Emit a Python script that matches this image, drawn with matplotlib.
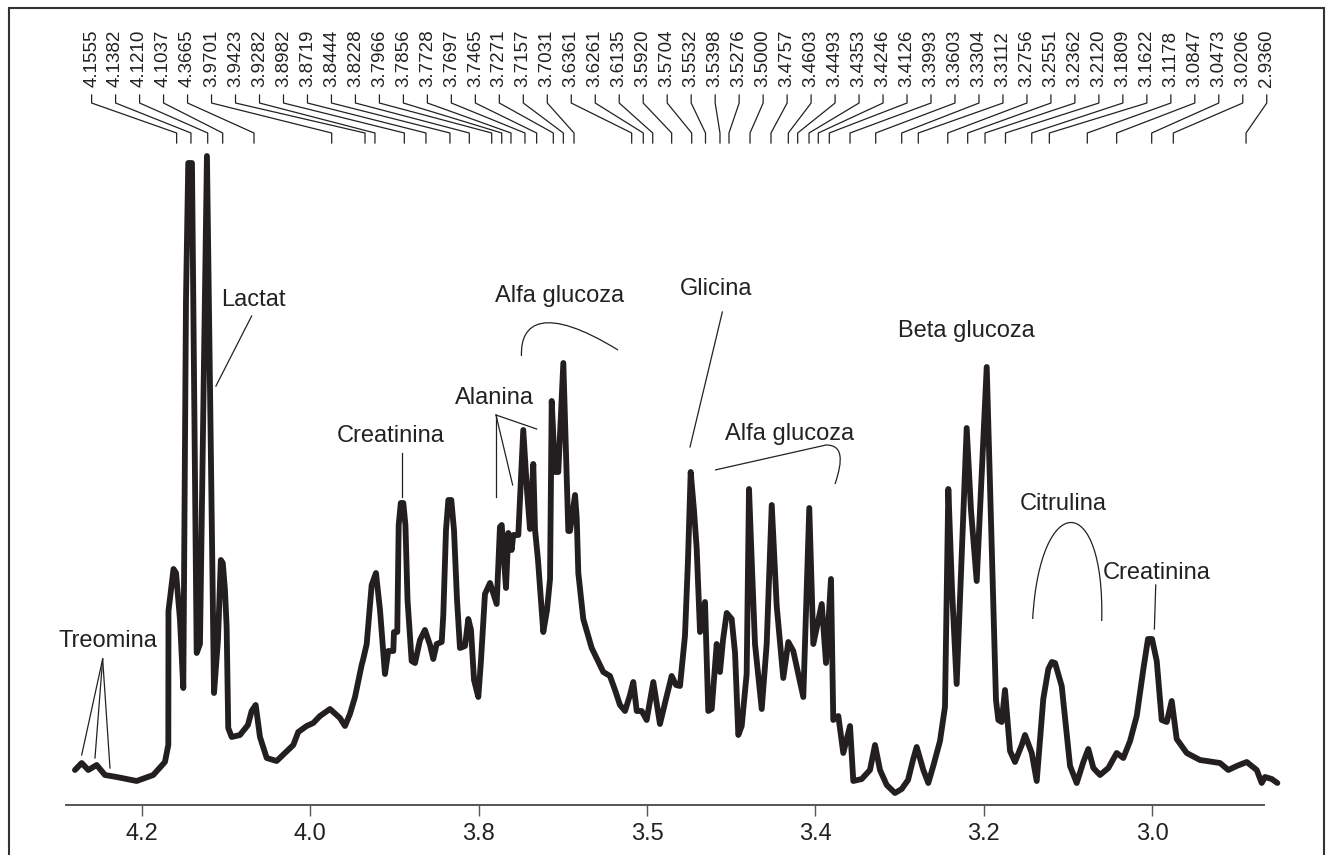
import numpy as np
import matplotlib
matplotlib.use("Agg")
import matplotlib.pyplot as plt
from matplotlib.path import Path
from matplotlib.patches import PathPatch, Rectangle
from matplotlib.transforms import blended_transform_factory

plt.rcParams['font.family'] = ['Liberation Sans', 'DejaVu Sans']

# spectru 1H-RMN: deplasare chimica (ppm) si intensitate (u.a.)
ppm = [4.2796, 4.2716, 4.2638, 4.2538, 4.2440, 4.2301, 4.2063, 4.1866, 4.1727, 4.1687,
       4.1685, 4.1625, 4.1595, 4.1548, 4.1509, 4.1477, 4.1450, 4.1406, 4.1350, 4.1311, 4.1228,
       4.1144, 4.1097, 4.1063, 4.1040, 4.1014, 4.0994, 4.0975, 4.0934, 4.0836, 4.0741, 4.0697,
       4.0649, 4.0598, 4.0518, 4.0400, 4.0202, 4.0143, 4.0043, 3.9965, 3.9885, 3.9766,
       3.9648, 3.9588, 3.9529, 3.9469, 3.9390, 3.9371, 3.9330, 3.9271, 3.9220, 3.9172,
       3.9113, 3.9074, 3.9014, 3.9006, 3.8967, 3.8950, 3.8925, 3.8895, 3.8870, 3.8845, 3.8796,
       3.8756, 3.8697, 3.8638, 3.8578, 3.8539, 3.8499, 3.8439, 3.8420, 3.8388, 3.8360, 3.8325,
       3.8293, 3.8257, 3.8222, 3.8162, 3.8123, 3.8091, 3.8055, 3.8004, 3.7972, 3.7925,
       3.7865, 3.7786, 3.7747, 3.7726, 3.7699, 3.7675, 3.7648, 3.7608, 3.7589, 3.7529,
       3.7470, 3.7426, 3.7390, 3.7351, 3.7331, 3.7295, 3.7232, 3.7188, 3.7152, 3.7132,
       3.7093, 3.7054, 3.6994, 3.6935, 3.6915, 3.6855, 3.6835, 3.6816, 3.6757, 3.6657,
       3.6519, 3.6440, 3.6380, 3.6321, 3.6261, 3.6202, 3.6163, 3.6122, 3.6063, 3.6004,
       3.5925, 3.5846, 3.5786, 3.5707, 3.5655, 3.5608, 3.5569, 3.5549, 3.5513, 3.5481,
       3.5442, 3.5410, 3.5370, 3.5311, 3.5272, 3.5231, 3.5172, 3.5133, 3.5097, 3.5053,
       3.4994, 3.4954, 3.4915, 3.4875, 3.4816, 3.4788, 3.4752, 3.4717, 3.4637, 3.4578,
       3.4518, 3.4459, 3.4381, 3.4321, 3.4262, 3.4202, 3.4143, 3.4072, 3.4024, 3.3924,
       3.3873, 3.3814, 3.3787, 3.3727, 3.3668, 3.3588, 3.3549, 3.3449, 3.3351, 3.3291,
       3.3232, 3.3152, 3.3054, 3.2974, 3.2899, 3.2840, 3.2796, 3.2717, 3.2658, 3.2599,
       3.2519, 3.2460, 3.2420, 3.2376, 3.2321, 3.2202, 3.2151, 3.2083, 3.1964, 3.1901,
       3.1854, 3.1826, 3.1786, 3.1747, 3.1687, 3.1628, 3.1548, 3.1509, 3.1429, 3.1370,
       3.1292, 3.1232, 3.1190, 3.1152, 3.1073, 3.0974, 3.0895, 3.0816, 3.0757, 3.0697, 3.0618,
       3.0519, 3.0420, 3.0341, 3.0261, 3.0182, 3.0103, 3.0048, 3.0000, 2.9944, 2.9885, 2.9825,
       2.9766, 2.9707, 2.9588, 2.9430, 2.9192, 2.9094, 2.8994, 2.8875, 2.8756, 2.8697,
       2.8658, 2.8578, 2.8511]
intensity = [35, 42, 35, 40, 30, 28, 24, 30, 43, 60,
             194, 236, 232, 185, 117, 505, 642, 642, 152, 161, 649,
             112, 165, 245, 242, 215, 178, 77, 68, 70, 80, 94,
             100, 68, 47, 44, 60, 73, 79, 82, 89, 96,
             87, 79, 91, 108, 140, 146, 161, 220, 232, 195,
             131, 154, 154, 173, 173, 280, 302, 302, 280, 205, 144,
             142, 165, 175, 160, 146, 161, 163, 190, 275, 305, 305,
             275, 205, 157, 159, 186, 175, 125, 108, 145, 211,
             222, 201, 278, 280, 245, 217, 272, 255, 270, 270,
             375, 315, 276, 341, 276, 245, 173, 195, 226, 404,
             333, 333, 442, 274, 274, 310, 287, 232, 186, 157,
             133, 129, 115, 100, 94, 110, 123, 94, 94, 85,
             123, 81, 102, 129, 120, 119, 152, 169, 245, 333,
             295, 257, 173, 203, 94, 96, 161, 133, 165, 192,
             186, 152, 70, 79, 131, 316, 235, 161, 96, 161,
             300, 199, 127, 163, 154, 131, 108, 297, 161, 201,
             142, 226, 85, 89, 52, 79, 24, 26, 35, 60,
             35, 20, 12, 16, 25, 45, 58, 35, 22, 39,
             64, 98, 316, 215, 121, 377, 295, 224, 438, 245,
             105, 85, 83, 115, 54, 43, 60, 70, 52, 24,
             106, 136, 143, 142, 119, 39, 22, 43, 56, 37, 30,
             37, 52, 47, 64, 89, 136, 166, 166, 144, 85, 83,
             104, 66, 52, 45, 42, 35, 39, 43, 35, 22,
             28, 26, 22]

# etichetele de sus si pozitia (ppm) la care coboara fiecare linie de legatura
peak_labels = ["4.1555", "4.1382", "4.1210", "4.1037", "4.3665", "3.9701", "3.9423", "3.9282",
               "3.8982", "3.8719", "3.8444", "3.8228", "3.7966", "3.7856", "3.7728", "3.7697",
               "3.7465", "3.7271", "3.7157", "3.7031", "3.6361", "3.6261", "3.6135", "3.5920",
               "3.5704", "3.5532", "3.5398", "3.5276", "3.5000", "3.4757", "3.4603", "3.4493",
               "3.4353", "3.4246", "3.4126", "3.3993", "3.3603", "3.3304", "3.3112", "3.2756",
               "3.2551", "3.2362", "3.2120", "3.1809", "3.1622", "3.1178", "3.0847", "3.0473",
               "3.0206", "2.9360"]
peak_ppm = [4.1588, 4.1418, 4.1219, 4.1041, 4.0669, 3.9746, 3.9350, 3.9232, 3.8883, 3.8626,
            3.8341, 3.8111, 3.7845, 3.7726, 3.7616, 3.7450, 3.7311, 3.7113, 3.6994, 3.6867,
            3.6182, 3.6044, 3.5932, 3.5707, 3.5469, 3.5305, 3.5133, 3.5026, 3.4776, 3.4527,
            3.4321, 3.4210, 3.4075, 3.3965, 3.3834, 3.3588, 3.3283, 3.2974, 3.2777, 3.2427,
            3.2190, 3.1984, 3.1741, 3.1429, 3.1220, 3.0769, 3.0420, 3.0004, 2.9747, 2.8883]

tick_pos = [4.2, 4.0, 3.8, 3.6, 3.4, 3.2, 3.0]
tick_labels = ["4.2", "4.0", "3.8", "3.5", "3.4", "3.2", "3.0"]

INK = "#231f20"

fig = plt.figure(figsize=(13.29, 8.55), dpi=100)
ax = fig.add_axes([62 / 1329, 50 / 855, 1220.5 / 1329, 662 / 855])

ax.plot(ppm, intensity, color=INK, lw=4.2, solid_joinstyle='round', solid_capstyle='round')

ax.set_xlim(4.295, 2.845)
ax.set_ylim(0, 662)
for s in ['top', 'left', 'right']:
    ax.spines[s].set_visible(False)
ax.spines['bottom'].set_bounds(4.2903, 2.867)
ax.spines['bottom'].set_color('#555555')
ax.spines['bottom'].set_linewidth(1.4)
ax.set_yticks([])
ax.set_xticks(tick_pos, tick_labels)
ax.tick_params(axis='x', direction='out', length=8, width=1, pad=5,
               labelsize=17, colors='#555555', labelcolor='#222222')

# etichete verticale si liniile de legatura
trans = blended_transform_factory(ax.transData, ax.transAxes)
label_x = np.linspace(4.2598, 2.8637, len(peak_labels))
for lx, px, lab in zip(label_x, peak_ppm, peak_labels):
    ax.plot([lx, lx, px, px], [1.0725, 1.0604, 1.0151, 1.0], transform=trans,
            clip_on=False, color='#222222', lw=0.9)
    ax.text(lx, 1.0846, lab, rotation=90, ha='center', va='bottom', transform=trans,
            fontsize=13.5, color='#222222', clip_on=False)

# adnotari metaboliti
tk = dict(fontsize=17, color='#222222', ha='center', va='center')
lk = dict(color='#222222', lw=0.9)

ax.text(4.2404, 164, "Treomina", **tk)
for ex, ey in [(4.2716, 50), (4.2558, 47), (4.2380, 37)]:
    ax.plot([4.2467, ex], [146, ey], **lk)

ax.text(4.0681, 505, "Lactat", **tk)
ax.plot([4.0697, 4.1121], [489, 419], **lk)

ax.text(3.9042, 369, "Creatinina", **tk)
ax.plot([3.8915, 3.8915], [352, 308], **lk)

ax.text(3.7818, 407, "Alanina", **tk)
for ex, ey in [(3.7794, 308), (3.7596, 320), (3.7311, 376)]:
    ax.plot([3.7794, ex], [390, ey], **lk)

ax.text(3.7034, 509, "Alfa glucoza", **tk)
arc = Path([(3.7491, 449), (3.7509, 483), (3.7212, 500), (3.6345, 455)],
           [Path.MOVETO, Path.CURVE4, Path.CURVE4, Path.CURVE4])
ax.add_patch(PathPatch(arc, fill=False, ec='#222222', lw=0.9))

ax.text(3.5180, 516, "Glicina", **tk)
ax.plot([3.5105, 3.5489], [493, 358], **lk)

ax.text(3.4301, 371, "Alfa glucoza", **tk)
brace = Path([(3.5192, 335), (3.3873, 360), (3.3671, 360), (3.3671, 345), (3.3766, 321)],
             [Path.MOVETO, Path.LINETO, Path.CURVE4, Path.CURVE4, Path.CURVE4])
ax.add_patch(PathPatch(brace, fill=False, ec='#222222', lw=0.9))

ax.text(3.2210, 474, "Beta glucoza", **tk)

ax.text(3.1058, 301, "Citrulina", **tk)
cap = Path([(3.1418, 186), (3.1331, 315), (3.0559, 315), (3.0598, 184)],
           [Path.MOVETO, Path.CURVE4, Path.CURVE4, Path.CURVE4])
ax.add_patch(PathPatch(cap, fill=False, ec='#222222', lw=0.9))

ax.text(2.9941, 232, "Creatinina", **tk)
ax.plot([2.9956, 2.9972], [220, 176], **lk)

# chenarul figurii
fig.patches.append(Rectangle((9 / 1329, -0.1), 1315 / 1329, 1.0906,
                             transform=fig.transFigure, fill=False, ec='#333333', lw=1.5))

fig.savefig("out.png", dpi=100)
